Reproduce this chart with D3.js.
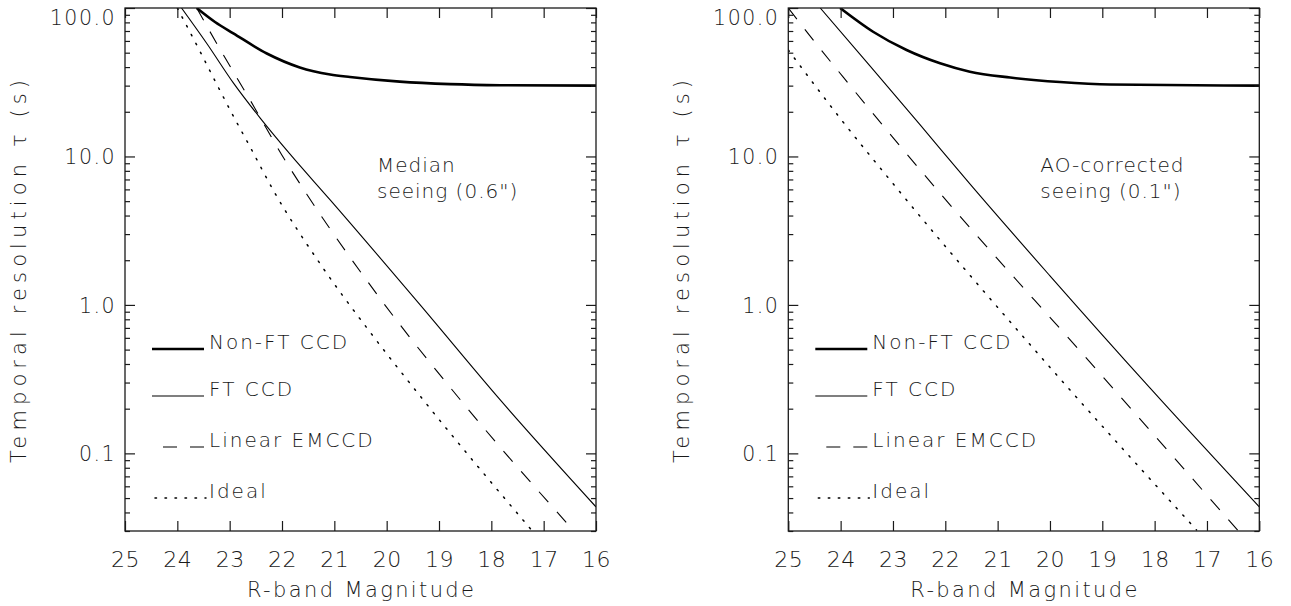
<!DOCTYPE html>
<html>
<head>
<meta charset="utf-8">
<script src="https://cdn.jsdelivr.net/npm/d3@7"></script>
<style>
  html, body { margin: 0; padding: 0; background: #fff; }
  svg { display: block; }
  text { font-family: "DejaVu Sans", sans-serif; font-weight: 200; fill: #1a1a1a; }
</style>
</head>
<body>
<svg id="chart" width="1291" height="606"></svg>
<script>
// ---------- data ----------
const xTickValues = [25, 24, 23, 22, 21, 20, 19, 18, 17, 16];
const xTickLabels = ["25", "24", "23", "22", "21", "20", "19", "18", "17", "16"];
const yMajorValues = [0.1, 1, 10, 100];
const yMajorLabels = ["0.1", "1.0", "10.0", "100.0"];
const xDomain = [25, 16];
const yDomain = [0.03, 100];

const seriesNames = ["Non-FT CCD", "FT CCD", "Linear EMCCD", "Ideal"];
const panelTitles = [["Median", "seeing (0.6\")"], ["AO-corrected", "seeing (0.1\")"]];
const xTitle = "R-band Magnitude";
const yTitle = "Temporal resolution \u03C4 (s)";

// Left panel: median seeing (0.6")
const magLeftNonFT = [23.63, 23.28, 22.93, 22.29, 21.66, 21.08, 20.70, 19.75, 18.79, 17.83, 16.0];
const tauLeftNonFT = [100, 80.5, 67.5, 49.4, 39.8, 35.7, 34.3, 31.9, 30.7, 30.2, 30.0];
const magLeftFT = [23.92, 23.43, 22.93, 22.42, 21.85, 21.08, 19.36, 17.83, 16.0];
const tauLeftFT = [100, 57.2, 31.3, 18.2, 10.4, 5.1, 1.0, 0.229, 0.0436];
const magLeftEM = [23.63, 23.25, 22.61, 21.91, 21.53, 20.13, 18.54, 16.43];
const tauLeftEM = [100, 57.9, 24.0, 9.04, 5.59, 1.11, 0.218, 0.0302];
const magLeftIdeal = [24.0, 23.57, 23.25, 22.93, 22.61, 22.17, 21.27, 20.32, 19.30, 17.22];
const tauLeftIdeal = [100, 51.3, 30.8, 18.7, 11.6, 5.95, 1.89, 0.658, 0.229, 0.0301];

// Right panel: AO-corrected seeing (0.1")
const magRightNonFT = [24.01, 23.38, 22.74, 22.10, 21.53, 20.76, 19.81, 18.85, 16.0];
const tauRightNonFT = [100, 69.2, 52.1, 42.4, 37.2, 34.0, 31.7, 30.5, 30.0];
const magRightFT = [24.39, 23.44, 22.48, 21.53, 20.0, 18.09, 16.0];
const tauRightFT = [100, 40.7, 16.3, 6.53, 1.57, 0.276, 0.0436];
const magRightEM = [25.0, 24.59, 23.95, 22.10, 19.24, 16.40];
const tauRightEM = [100, 65.1, 34.2, 5.65, 0.413, 0.030];
const magRightIdeal = [25.0, 24.01, 22.87, 20.0, 17.20];
const tauRightIdeal = [52.1, 18.1, 5.78, 0.380, 0.0305];

// ---------- styles ----------
const styles = [
  { width: 2.6, dash: null },
  { width: 1.1, dash: null },
  { width: 1.1, dash: "14,13" },
  { width: 1.5, dash: "1.5,8.5" }
];

const panels = [
  { left: 125, series: [[magLeftNonFT, tauLeftNonFT], [magLeftFT, tauLeftFT], [magLeftEM, tauLeftEM], [magLeftIdeal, tauLeftIdeal]], title: panelTitles[0] },
  { left: 788.3, series: [[magRightNonFT, tauRightNonFT], [magRightFT, tauRightFT], [magRightEM, tauRightEM], [magRightIdeal, tauRightIdeal]], title: panelTitles[1] }
];

const plotW = 471, plotTop = 8, plotBottom = 531;
const svg = d3.select("#chart");
const AX = "#1a1a1a";

panels.forEach((p, pi) => {
  const x = d3.scaleLinear().domain(xDomain).range([p.left, p.left + plotW]);
  const y = d3.scaleLog().domain(yDomain).range([plotBottom, plotTop]);
  const g = svg.append("g");

  const clipId = "clip" + pi;
  svg.append("clipPath").attr("id", clipId).append("rect")
    .attr("x", p.left).attr("y", plotTop).attr("width", plotW).attr("height", plotBottom - plotTop);

  // curves
  const line = d3.line().x(d => x(d[0])).y(d => y(d[1])).curve(d3.curveMonotoneX);
  p.series.forEach((s, si) => {
    const pts = s[0].map((m, i) => [m, s[1][i]]);
    g.append("path").attr("d", line(pts))
      .attr("clip-path", `url(#${clipId})`)
      .attr("fill", "none").attr("stroke", "#000")
      .attr("stroke-width", styles[si].width)
      .attr("stroke-dasharray", styles[si].dash)
      .attr("stroke-linecap", si === 3 ? "round" : "butt");
  });

  // axes
  const minor = y.ticks().filter(v => !yMajorValues.some(m => Math.abs(m - v) < 1e-9));
  const styleAxis = (fs, ls) => sel => {
    sel.select(".domain").remove();
    sel.selectAll("line").attr("stroke", AX).attr("stroke-width", 1.2);
    sel.selectAll("text").attr("font-size", fs).attr("letter-spacing", ls).attr("fill", AX)
      .attr("font-family", "DejaVu Sans, sans-serif").attr("font-weight", 200);
  };
  g.append("g").attr("transform", `translate(0,${plotBottom})`)
    .call(d3.axisBottom(x).tickValues(xTickValues).tickSizeInner(-10).tickSizeOuter(0).tickPadding(20)
      .tickFormat((d, i) => xTickLabels[i]))
    .call(styleAxis(22, "0.5px"));
  g.append("g").attr("transform", `translate(0,${plotTop})`)
    .call(d3.axisTop(x).tickValues(xTickValues).tickSizeInner(-10).tickSizeOuter(0).tickFormat(""))
    .call(styleAxis(22, "0px"));
  g.append("g").attr("transform", `translate(${p.left},0)`)
    .call(d3.axisLeft(y).tickValues(yMajorValues).tickSizeInner(-10).tickSizeOuter(0).tickPadding(9)
      .tickFormat((d, i) => yMajorLabels[i]))
    .call(styleAxis(20.5, "1.5px"))
    .call(sel => sel.selectAll("text").attr("dy", d => d === yDomain[1] ? "0.82em" : "0.36em"));
  g.append("g").attr("transform", `translate(${p.left},0)`)
    .call(d3.axisLeft(y).tickValues(minor).tickSizeInner(-5).tickSizeOuter(0).tickFormat(""))
    .call(styleAxis(20, "0px"));
  g.append("g").attr("transform", `translate(${p.left + plotW},0)`)
    .call(d3.axisRight(y).tickValues(yMajorValues).tickSizeInner(-10).tickSizeOuter(0).tickFormat(""))
    .call(styleAxis(20, "0px"));
  g.append("g").attr("transform", `translate(${p.left + plotW},0)`)
    .call(d3.axisRight(y).tickValues(minor).tickSizeInner(-5).tickSizeOuter(0).tickFormat(""))
    .call(styleAxis(20, "0px"));

  // frame
  g.append("rect").attr("x", p.left).attr("y", plotTop).attr("width", plotW).attr("height", plotBottom - plotTop)
    .attr("fill", "none").attr("stroke", AX).attr("stroke-width", 1.3);

  // axis titles
  g.append("text").attr("x", p.left + plotW / 2).attr("y", 597)
    .attr("text-anchor", "middle").attr("font-size", 21)
    .attr("textLength", 227).attr("lengthAdjust", "spacing").text(xTitle);
  g.append("text").attr("transform", `translate(${p.left - 99},${(plotTop + plotBottom) / 2 + 2}) rotate(-90)`)
    .attr("text-anchor", "middle").attr("font-size", 21)
    .attr("textLength", 383).attr("lengthAdjust", "spacing").text(yTitle);

  // panel annotation
  p.title.forEach((t, i) => {
    g.append("text").attr("x", p.left + 252).attr("y", 172 + i * 26)
      .attr("font-size", 20).attr("letter-spacing", "1px").text(t);
  });

  // legend
  const rows = [349, 396, 447, 498];
  seriesNames.forEach((name, si) => {
    const ly = rows[si];
    const x1 = si === 2 ? p.left + 38 : (si === 3 ? p.left + 30 : p.left + 27);
    const x2 = si === 3 ? p.left + 81 : p.left + 79;
    g.append("line").attr("x1", x1).attr("x2", x2).attr("y1", ly).attr("y2", ly)
      .attr("stroke", "#000").attr("stroke-width", styles[si].width)
      .attr("stroke-dasharray", styles[si].dash)
      .attr("stroke-linecap", si === 3 ? "round" : "butt");
    g.append("text").attr("x", p.left + 84).attr("y", ly)
      .attr("font-size", 20).attr("letter-spacing", "2px").text(name);
  });
});
</script>
</body>
</html>
